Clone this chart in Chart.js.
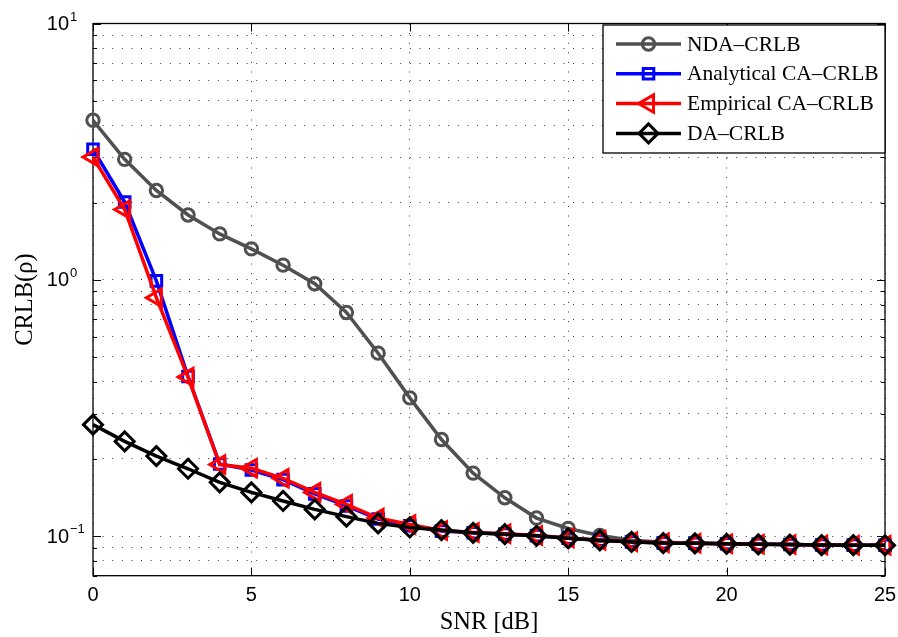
<!DOCTYPE html>
<html>
<head>
<meta charset="utf-8">
<script src="https://cdn.jsdelivr.net/npm/chart.js@4/dist/chart.umd.min.js"></script>
<style>
  html, body { margin: 0; padding: 0; background: #fff; }
  #wrap { width: 898px; height: 637px; }
</style>
</head>
<body>
<div id="wrap"><canvas id="c" width="898" height="637"></canvas></div>
<script>
// ---- data ----
const snr = [0,1,2,3,4,5,6,7,8,9,10,11,12,13,14,15,16,17,18,19,20,21,22,23,24,25];
const ndaCrlb = [4.19, 2.95, 2.23, 1.79, 1.51, 1.32, 1.14, 0.965, 0.745, 0.517, 0.346, 0.238, 0.176, 0.141, 0.1175, 0.107, 0.1005, 0.0963, 0.0945, 0.0938, 0.0933, 0.0929, 0.0926, 0.0922, 0.0921, 0.092];
const analyticalCaCrlb = [3.23, 2.01, 0.99, 0.419, 0.191, 0.181, 0.166, 0.146, 0.131, 0.1165, 0.1097, 0.1045, 0.1030, 0.1018, 0.1003, 0.0981, 0.0962, 0.0949, 0.0940, 0.0937, 0.0933, 0.0929, 0.0926, 0.0922, 0.0921, 0.0920];
const empiricalCaCrlb = [3.01, 1.88, 0.851, 0.417, 0.190, 0.184, 0.168, 0.148, 0.133, 0.1175, 0.111, 0.105, 0.1032, 0.1020, 0.1004, 0.0982, 0.0963, 0.0950, 0.0941, 0.0937, 0.0933, 0.0929, 0.0926, 0.0922, 0.0921, 0.0920];
const daCrlb = [0.272, 0.234, 0.205, 0.183, 0.162, 0.148, 0.137, 0.127, 0.119, 0.112, 0.108, 0.1055, 0.1029, 0.1017, 0.1002, 0.0980, 0.0962, 0.0948, 0.0939, 0.0936, 0.0932, 0.0928, 0.0926, 0.0922, 0.0921, 0.0920];
const seriesNames = ['NDA\u2013CRLB', 'Analytical CA\u2013CRLB', 'Empirical CA\u2013CRLB', 'DA\u2013CRLB'];
const xTicks = [0, 5, 10, 15, 20, 25];
const yDecades = [0.1, 1, 10];
const yMinorTicks = [0.07, 0.08, 0.09, 0.2, 0.3, 0.4, 0.5, 0.6, 0.7, 0.8, 0.9, 2, 3, 4, 5, 6, 7, 8, 9];
const xTitle = 'SNR [dB]';
const yTitle = 'CRLB(\u03c1)';

const toPts = arr => arr.map((v, i) => ({ x: snr[i], y: v }));

const SERIF = '"Liberation Serif", "Times New Roman", serif';
const SANS = '"Liberation Sans", Arial, sans-serif';

const datasets = [
  { label: seriesNames[0], data: toPts(ndaCrlb), borderColor: '#505050', pointStyle: 'circle',
    pointRadius: 6.2, pointBorderWidth: 3, pointRotation: 0, order: 4 },
  { label: seriesNames[1], data: toPts(analyticalCaCrlb), borderColor: '#0000ff', pointStyle: 'rect',
    pointRadius: 7.5, pointBorderWidth: 3, pointRotation: 0, order: 3 },
  { label: seriesNames[2], data: toPts(empiricalCaCrlb), borderColor: '#ff0000', pointStyle: 'triangle',
    pointRadius: 10, pointBorderWidth: 3, pointRotation: -90, order: 2 },
  { label: seriesNames[3], data: toPts(daCrlb), borderColor: '#000000', pointStyle: 'rectRot',
    pointRadius: 9.5, pointBorderWidth: 3, pointRotation: 0, order: 1 }
].map(d => Object.assign({
  borderWidth: 3.5,
  pointBorderColor: d.borderColor,
  pointBackgroundColor: 'rgba(0,0,0,0)',
  backgroundColor: 'rgba(0,0,0,0)',
  tension: 0,
  clip: false
}, d));

function drawMarker(ctx, ds, x, y) {
  ctx.save();
  ctx.strokeStyle = ds.borderColor;
  ctx.lineWidth = ds.pointBorderWidth;
  ctx.fillStyle = 'rgba(0,0,0,0)';
  Chart.helpers.drawPoint(ctx, {
    pointStyle: ds.pointStyle, radius: ds.pointRadius, rotation: ds.pointRotation, borderWidth: ds.pointBorderWidth
  }, x, y);
  ctx.restore();
}

const framePlugin = {
  id: 'frame',
  beforeDatasetsDraw(chart) {
    const { ctx, chartArea: a, scales: { x, y } } = chart;
    ctx.save();
    ctx.strokeStyle = '#000';
    ctx.lineWidth = 1.3;
    ctx.strokeRect(a.left, a.top, a.right - a.left, a.bottom - a.top);
    ctx.lineWidth = 1;
    ctx.beginPath();
    xTicks.forEach(v => {
      const px = Math.round(x.getPixelForValue(v)) + 0.5;
      ctx.moveTo(px, a.bottom); ctx.lineTo(px, a.bottom - 8);
      ctx.moveTo(px, a.top); ctx.lineTo(px, a.top + 8);
    });
    yDecades.forEach(v => {
      const py = Math.round(y.getPixelForValue(v)) + 0.5;
      ctx.moveTo(a.left, py); ctx.lineTo(a.left + 8, py);
      ctx.moveTo(a.right, py); ctx.lineTo(a.right - 8, py);
    });
    yMinorTicks.forEach(v => {
      const py = Math.round(y.getPixelForValue(v)) + 0.5;
      ctx.moveTo(a.left, py); ctx.lineTo(a.left + 4, py);
      ctx.moveTo(a.right, py); ctx.lineTo(a.right - 4, py);
    });
    ctx.stroke();
    ctx.restore();
  },
  afterDraw(chart) {
    const { ctx, chartArea: a, scales: { y } } = chart;
    // y tick labels with superscript exponents
    ctx.save();
    ctx.fillStyle = '#000';
    yDecades.forEach(v => {
      const py = y.getPixelForValue(v);
      const e = Math.round(Math.log10(v));
      ctx.font = '20px ' + SANS;
      ctx.textAlign = 'right';
      ctx.textBaseline = 'middle';
      ctx.fillText('10', a.left - 24, py + 1);
      ctx.font = '13px ' + SANS;
      ctx.textAlign = 'left';
      ctx.textBaseline = 'alphabetic';
      ctx.fillText(e < 0 ? '\u2212' + Math.abs(e) : String(e), a.left - 23, py - 3);
    });
    // legend
    const bx1 = a.right, by0 = a.top + 1.5, bx0 = a.right - 282, by1 = by0 + 128;
    ctx.fillStyle = '#fff';
    ctx.fillRect(bx0, by0, bx1 - bx0, by1 - by0);
    ctx.strokeStyle = '#000';
    ctx.lineWidth = 1.3;
    ctx.strokeRect(bx0, by0, bx1 - bx0, by1 - by0);
    chart.data.datasets.forEach((ds, i) => {
      const cy = by0 + 19 + i * 29.8;
      ctx.strokeStyle = ds.borderColor;
      ctx.lineWidth = ds.borderWidth;
      ctx.beginPath();
      ctx.moveTo(bx0 + 13, cy); ctx.lineTo(bx0 + 78, cy);
      ctx.stroke();
      drawMarker(ctx, ds, bx0 + 45.5, cy);
      ctx.fillStyle = '#000';
      ctx.font = '21.5px ' + SERIF;
      ctx.textAlign = 'left';
      ctx.textBaseline = 'middle';
      ctx.fillText(ds.label, bx0 + 84, cy + 1);
    });
    ctx.restore();
  }
};

new Chart(document.getElementById('c'), {
  type: 'line',
  data: { datasets },
  options: {
    responsive: false,
    animation: false,
    events: [],
    layout: { padding: { top: 23.5, right: 13, left: 0, bottom: 0 } },
    plugins: { legend: { display: false }, tooltip: { enabled: false } },
    scales: {
      x: {
        type: 'linear', min: 0, max: 25,
        afterBuildTicks: s => { s.ticks = xTicks.map(v => ({ value: v })); },
        afterFit: s => { s.height = 61.3; s.paddingRight = 0; s.paddingLeft = 0; },
        ticks: { color: '#000', font: { family: SANS, size: 20 }, padding: 8, maxRotation: 0 },
        grid: { color: 'rgba(0,0,0,0.8)', lineWidth: 1, drawTicks: false },
        border: { display: false, dash: [1, 8.6] },
        title: { display: true, text: xTitle, color: '#000', font: { family: SERIF, size: 24.5, lineHeight: 1.2 }, padding: { top: 0, bottom: 0 } }
      },
      y: {
        type: 'logarithmic', min: 0.07, max: 10,
        afterBuildTicks: s => {
          s.ticks = yMinorTicks.concat(yDecades).sort((p, q) => p - q).map(v => ({ value: v, major: yDecades.includes(v) }));
        },
        afterFit: s => { s.width = 93; s.paddingTop = 0; s.paddingBottom = 0; },
        ticks: { display: false },
        grid: { color: 'rgba(0,0,0,0.8)', lineWidth: 1, drawTicks: false },
        border: { display: false, dash: [1, 8.6] },
        title: { display: true, text: yTitle, color: '#000', font: { family: SERIF, size: 24.5, lineHeight: 1.2 }, padding: { top: 11, bottom: 0 } }
      }
    }
  },
  plugins: [framePlugin]
});
</script>
</body>
</html>
